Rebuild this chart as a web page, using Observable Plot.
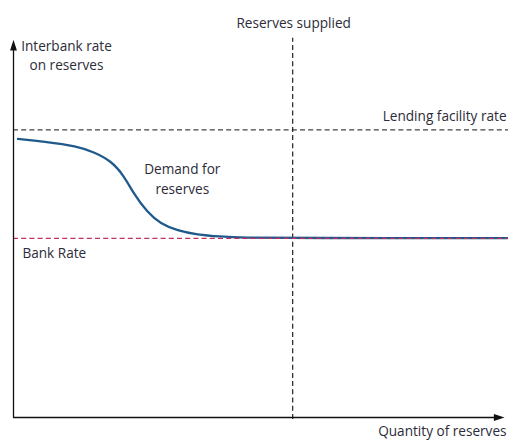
<!DOCTYPE html>
<html>
<head>
<meta charset="utf-8">
<script src="https://cdn.jsdelivr.net/npm/d3@7"></script>
<script src="https://cdn.jsdelivr.net/npm/@observablehq/plot@0.6"></script>
<style>
  html, body { margin: 0; padding: 0; background: #fff; }
  #chart svg { display: block; }
</style>
</head>
<body>
<div id="chart"></div>
<script>
// Conceptual scale: quantity 0–100 (x), rate 0–100 (y)
const lendingFacilityRate = 76.3;
const bankRate = 47.5;
const reservesSupplied = 56.4;

// Demand for reserves curve
const demandQuantity = [0.9, 6.1, 12.9, 16.2, 19.6, 22.3, 24.3, 27.0, 29.7, 33.1, 37.1, 41.8, 45.9, 58.0, 100];
const demandRate     = [73.9, 73.2, 72.0, 70.4, 68.2, 64.2, 59.3, 54.5, 51.4, 49.6, 48.5, 48.0, 47.7, 47.6, 47.6];

// Labels (one entry per text line)
const labelTexts = ["Interbank rate", "on reserves", "Reserves supplied", "Lending facility rate", "Demand for", "reserves", "Bank Rate", "Quantity of reserves"];
const labelX = [10.7, 10.7, 56.6, 99.6, 34.1, 34.1, 1.8, 99.6];
const labelY = [98.5, 93.2, 104.5, 79.8, 65.8, 60.5, 43.5, -3.8];
const labelAnchor = ["middle", "middle", "middle", "end", "middle", "middle", "start", "end"];

const demand = demandQuantity.map((q, i) => ({q, r: demandRate[i]}));
const labels = labelTexts.map((t, i) => ({t, x: labelX[i], y: labelY[i], a: labelAnchor[i]}));

const arrowHead = {
  draw(context, size) {
    const s = Math.sqrt(size);
    context.moveTo(0, 0);
    context.lineTo(-s * 0.32, s);
    context.lineTo(s * 0.32, s);
    context.closePath();
  }
};

const ink = "#111";
const textColor = "#2c2c38";
const font = "Open Sans, Noto Sans, sans-serif";

const textMark = (anchor) => Plot.text(labels.filter(d => d.a === anchor), {
  x: "x", y: "y", text: "t", textAnchor: anchor, lineAnchor: "middle",
  fill: textColor, fontSize: 13.6, fontFamily: font
});

const chart = Plot.plot({
  width: 508,
  height: 440,
  marginTop: 0, marginBottom: 0, marginLeft: 0, marginRight: 0,
  x: {domain: [0, 100], range: [13, 508], axis: null},
  y: {domain: [0, 100], range: [417, 40], axis: null},
  style: {background: "#fff", overflow: "visible"},
  marks: [
    // lending facility rate
    Plot.ruleY([lendingFacilityRate], {x1: 0, x2: 100, stroke: "#444", strokeWidth: 1.2, strokeDasharray: "5,3.2"}),
    // reserves supplied
    Plot.ruleX([reservesSupplied], {y1: -0.5, y2: 100.6, stroke: "#222", strokeWidth: 1.2, strokeDasharray: "5,3.2"}),
    // demand curve
    Plot.line(demand, {x: "q", y: "r", curve: "basis", stroke: "#1f5a8c", strokeWidth: 2.3}),
    // bank rate
    Plot.ruleY([bankRate], {x1: 0, x2: 100, stroke: "#c2305f", strokeWidth: 1.3, strokeDasharray: "5,3.2"}),
    // axes
    Plot.ruleX([0], {y1: 0, y2: 98, stroke: ink, strokeWidth: 1.3}),
    Plot.ruleY([0], {x1: 0, x2: 98, stroke: ink, strokeWidth: 1.3}),
    Plot.dot([{x: 0, y: 100.2}], {x: "x", y: "y", symbol: arrowHead, r: 6, fill: ink, stroke: "none"}),
    Plot.dot([{x: 99.2, y: 0}], {x: "x", y: "y", symbol: arrowHead, r: 6, fill: ink, stroke: "none", rotate: 90}),
    textMark("middle"),
    textMark("start"),
    textMark("end")
  ]
});
document.getElementById("chart").append(chart);
</script>
</body>
</html>
